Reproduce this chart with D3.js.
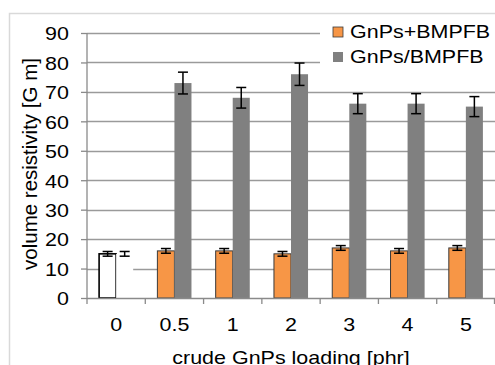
<!DOCTYPE html>
<html>
<head>
<meta charset="utf-8">
<script src="https://cdn.jsdelivr.net/npm/d3@7"></script>
<style>
  body { margin: 0; background: #fff; }
  text { font-family: "Liberation Sans", Arial, sans-serif; fill: #000; }
</style>
</head>
<body>
<svg id="chart"></svg>
<script>
// Width and height of the picture
var width = 495, height = 365;

// chart values
var categories = ["0", "0.5", "1", "2", "3", "4", "5"];
var seriesNames = ["GnPs+BMPFB", "GnPs/BMPFB"];
var plusValues = [15, 16, 16, 15, 17, 16, 17];
var plusErrors = [0.8, 0.8, 0.8, 0.8, 0.8, 0.8, 0.8];
var slashValues = [15, 73, 68, 76, 66, 66, 65];
var slashErrors = [0.8, 3.7, 3.5, 3.8, 3.4, 3.4, 3.4];
var yTicks = [0, 10, 20, 30, 40, 50, 60, 70, 80, 90];

var colors = ["#F79646", "#808080"];
var fs = "19px";
var stretch = 1.13; // text in the picture is a bit wider than normal

var svg = d3.select("#chart")
  .attr("width", width)
  .attr("height", height);

// outer frame
svg.append("path")
  .attr("d", "M9.5," + height + "V13.5H" + width)
  .attr("fill", "none")
  .attr("stroke", "#d9d9d9")
  .attr("stroke-width", 1.5);

var x = d3.scaleBand().domain(categories).range([87, 495]);
var xs = d3.scaleBand().domain(seriesNames).range([0, x.bandwidth()]).paddingOuter(0.71);
var y = d3.scaleLinear().domain([0, 90]).range([298, 33]);

// gridlines
svg.append("g")
  .selectAll("line")
  .data(yTicks.filter(d => d > 0))
  .enter().append("line")
  .attr("x1", 87).attr("x2", width)
  .attr("y1", d => Math.round(y(d)) + 0.5)
  .attr("y2", d => Math.round(y(d)) + 0.5)
  .attr("stroke", "#9a9a9a")
  .attr("stroke-width", 1.3);

// build rows for the bars
var rows = [];
categories.forEach(function(c, i) {
  rows.push({cat: c, s: seriesNames[0], v: plusValues[i], e: plusErrors[i], i: i, k: 0});
  rows.push({cat: c, s: seriesNames[1], v: slashValues[i], e: slashErrors[i], i: i, k: 1});
});

svg.append("g").selectAll("rect")
  .data(rows)
  .enter().append("rect")
  .attr("x", d => x(d.cat) + xs(d.s))
  .attr("width", xs.bandwidth())
  .attr("y", d => y(d.v))
  .attr("height", d => y(0) - y(d.v))
  .attr("fill", function(d) {
    if (d.i === 0) return "#fff"; // neat sample drawn as an empty bar
    return colors[d.k];
  })
  .attr("stroke", function(d) {
    if (d.i === 0) return d.k === 0 ? "#000" : "none";
    return d.k === 0 ? "#3a3a3a" : "none";
  })
  .attr("stroke-width", d => d.i === 0 ? 1.6 : 1);

// error bars
var err = svg.append("g").selectAll("g")
  .data(rows)
  .enter().append("g")
  .attr("stroke", "#000")
  .attr("stroke-width", 1.5);

function cx(d) { return x(d.cat) + xs(d.s) + xs.bandwidth() / 2; }

err.append("line")
  .attr("x1", cx).attr("x2", cx)
  .attr("y1", d => y(d.v + d.e))
  .attr("y2", d => y(d.v - d.e));
err.append("line")
  .attr("x1", d => cx(d) - 5).attr("x2", d => cx(d) + 5)
  .attr("y1", d => y(d.v + d.e))
  .attr("y2", d => y(d.v + d.e));
err.append("line")
  .attr("x1", d => cx(d) - 5).attr("x2", d => cx(d) + 5)
  .attr("y1", d => y(d.v - d.e))
  .attr("y2", d => y(d.v - d.e));

// y axis
var yAxis = svg.append("g")
  .attr("transform", "translate(87,0)")
  .call(d3.axisLeft(y).tickValues(yTicks).tickSize(6).tickPadding(18));
yAxis.selectAll("line, path").attr("stroke", "#8a8a8a").attr("stroke-width", 1.3);
yAxis.select(".domain").attr("d", "M0," + y(90) + "V" + y(0));
yAxis.selectAll("text")
  .style("font-size", fs)
  .attr("fill", "#000")
  .attr("dy", "0.36em")
  .attr("transform", "translate(-18,0) scale(" + stretch + ",1)")
  .attr("x", 0);

// x axis
var xAxis = svg.append("g")
  .attr("transform", "translate(0," + y(0) + ")")
  .call(d3.axisBottom(x).tickSize(0).tickPadding(20));
xAxis.select(".domain").attr("stroke", "#8a8a8a").attr("stroke-width", 1.3)
  .attr("d", "M87,0.5H" + width);
xAxis.selectAll("text")
  .style("font-size", fs)
  .attr("fill", "#000")
  .attr("transform", "scale(" + stretch + ",1)")
  .attr("y", 20)
  .attr("dy", "0.71em");
// tick marks between categories
svg.append("g").selectAll("line")
  .data(categories.concat(["end"]))
  .enter().append("line")
  .attr("x1", (d, i) => i < categories.length ? x(d) : x.range()[1] - 0.5)
  .attr("x2", (d, i) => i < categories.length ? x(d) : x.range()[1] - 0.5)
  .attr("y1", y(0))
  .attr("y2", y(0) + 6)
  .attr("stroke", "#8a8a8a")
  .attr("stroke-width", 1.3);

// axis titles
svg.append("text")
  .attr("transform", "translate(291,364) scale(" + stretch + ",1)")
  .attr("text-anchor", "middle")
  .style("font-size", fs)
  .text("crude GnPs loading [phr]");

svg.append("text")
  .attr("transform", "translate(37,164) rotate(-90)")
  .attr("text-anchor", "middle")
  .style("font-size", "20.5px")
  .text("volume resistivity [G m]");

// legend
var legend = svg.append("g");
legend.append("rect")
  .attr("x", 320).attr("y", 16)
  .attr("width", width - 320).attr("height", 54)
  .attr("fill", "#fff");

var item = legend.selectAll("g")
  .data(seriesNames)
  .enter().append("g")
  .attr("transform", (d, i) => "translate(333," + (27 + i * 25) + ")");

item.append("rect")
  .attr("width", 10).attr("height", 10)
  .attr("fill", (d, i) => colors[i])
  .attr("stroke", (d, i) => i === 0 ? "#3a3a3a" : "none")
  .attr("stroke-width", 0.8);

item.append("text")
  .attr("transform", "translate(17,11) scale(" + stretch + ",1)")
  .style("font-size", fs)
  .text(d => d);
</script>
</body>
</html>
